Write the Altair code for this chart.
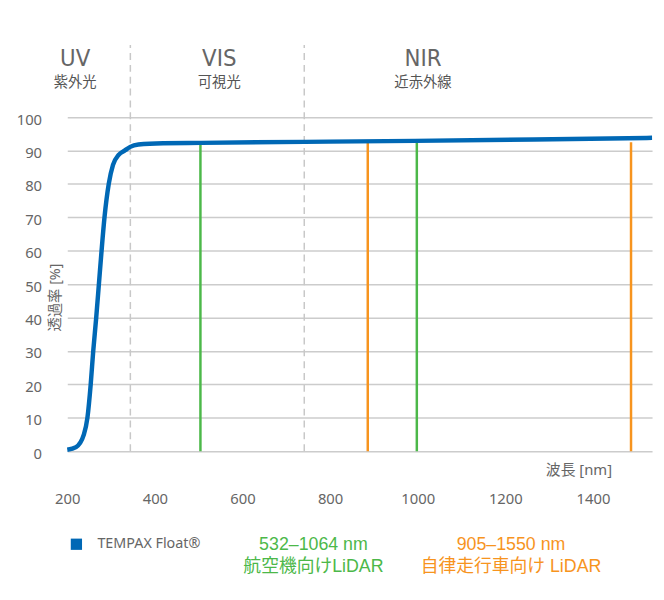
import altair as alt
import pandas as pd

# Transmission curve of TEMPAX Float (wavelength nm, transmittance %)
wl = [200, 220, 238, 246, 253.5, 259.3, 266.1, 272.2, 278.3, 285, 294.7, 304.4, 317.3, 332.4, 343.7, 362.4, 419, 505, 742, 994, 1265, 1535]
tr = [0.4, 1.2, 5, 10, 20, 30, 40, 50, 60, 70, 80, 85.7, 88.7, 90.1, 91.1, 91.8, 92.2, 92.3, 92.6, 92.9, 93.3, 93.8]

x_ticks = [200, 400, 600, 800, 1000, 1200, 1400]
y_ticks = [0, 10, 20, 30, 40, 50, 60, 70, 80, 90, 100]

# region boundaries (dashed)
bound_x = [344, 741]
bound_top = 121.6

# region labels
reg_x = [218, 547, 1012]
reg_main = ["UV", "VIS", "NIR"]
reg_sub = ["紫外光", "可視光", "近赤外線"]
reg_main_y = 117.3
reg_sub_y = 110.2

# LiDAR lines
green_x = [504, 998]
orange_x = [886, 1487]
line_top = 92.5

# LiDAR captions
cap_x = [762, 762, 1213, 1213]
cap_y = [-28.0, -34.6, -28.0, -34.6]
cap_text = ["532–1064 nm", "航空機向けLiDAR", "905–1550 nm", "自律走行車向け LiDAR"]
cap_group = ["g1", "g2", "o1", "o2"]

series_name = "TEMPAX Float®"

BLUE = "#0068b5"
GREEN = "#4cb849"
ORANGE = "#f7941e"
GRAY = "#666666"
FONT = "Noto Sans, Noto Sans CJK JP"
CAP_FONT = "Liberation Sans, Noto Sans CJK JP"

xs = alt.Scale(domain=[200, 1535], nice=False, zero=False)
ys = alt.Scale(domain=[0, 125.1], nice=False)

curve_df = pd.DataFrame({"wl": wl, "tr": tr, "s": [series_name] * len(wl)})
bound_df = pd.DataFrame({"x": bound_x, "y0": [0] * 2, "y1": [bound_top] * 2})
green_df = pd.DataFrame({"x": green_x, "y0": [0] * 2, "y1": [line_top] * 2})
orange_df = pd.DataFrame({"x": orange_x, "y0": [0] * 2, "y1": [line_top] * 2})
reg_df = pd.DataFrame({"x": reg_x, "main": reg_main, "sub": reg_sub,
                       "ym": [reg_main_y] * 3, "ys": [reg_sub_y] * 3})
cap_df = pd.DataFrame({"x": cap_x, "y": cap_y, "t": cap_text, "g": cap_group})

base_x = alt.X("wl:Q", scale=xs,
               axis=alt.Axis(values=x_ticks, format="d", grid=False, ticks=False, domain=False,
                             labelFlush=False, labelPadding=41, labelFontSize=15, labelColor=GRAY,
                             labelFont=FONT, title="波長 [nm]", titleFont=FONT,
                             titleFontSize=15, titleColor=GRAY, titleFontWeight="normal",
                             titleX=551, titleY=19, titleAlign="right",
                             titleBaseline="middle"))
base_y = alt.Y("tr:Q", scale=ys,
               axis=alt.Axis(values=y_ticks, grid=True, gridColor="#cccccc", gridWidth=1.5,
                             ticks=False, domain=False, labelPadding=26, labelFontSize=15,
                             labelColor=GRAY, labelFont=FONT, labelBaseline="middle",
                             labelOffset=2,
                             title="透過率 [%]", titleFont=FONT, titleFontSize=14.5,
                             titleColor=GRAY, titleFontWeight="normal",
                             titleX=-12, titleY=267, titleAlign="center",
                             titleBaseline="middle", titleAngle=270))

bounds = alt.Chart(bound_df).mark_rule(color="#c8c8c8", strokeWidth=1.5, strokeDash=[7, 5]).encode(
    x=alt.X("x:Q", scale=xs), y=alt.Y("y0:Q", scale=ys), y2="y1:Q")
greens = alt.Chart(green_df).mark_rule(color=GREEN, strokeWidth=2.5).encode(
    x=alt.X("x:Q", scale=xs), y=alt.Y("y0:Q", scale=ys), y2="y1:Q")
oranges = alt.Chart(orange_df).mark_rule(color=ORANGE, strokeWidth=2.5).encode(
    x=alt.X("x:Q", scale=xs), y=alt.Y("y0:Q", scale=ys), y2="y1:Q")

curve = alt.Chart(curve_df).mark_line(strokeWidth=4.5, interpolate="monotone").encode(
    x=base_x, y=base_y,
    color=alt.Color("s:N", scale=alt.Scale(range=[BLUE]),
                    legend=alt.Legend(title=None, orient="none", legendX=2, legendY=510,
                                      symbolType="square", symbolSize=130,
                                      symbolFillColor=BLUE, symbolStrokeWidth=0,
                                      labelFont=FONT, labelFontSize=14.5, labelColor=GRAY,
                                      labelOffset=14, padding=0)))

reg_main_t = alt.Chart(reg_df).mark_text(font="Liberation Sans Narrow, DejaVu Sans Condensed, Noto Sans",
                                         fontSize=24, color=GRAY, baseline="middle").encode(
    x=alt.X("x:Q", scale=xs), y=alt.Y("ym:Q", scale=ys), text="main:N")
reg_sub_t = alt.Chart(reg_df).mark_text(font=FONT, fontSize=14.5, color="#555555", baseline="middle").encode(
    x=alt.X("x:Q", scale=xs), y=alt.Y("ys:Q", scale=ys), text="sub:N")

cap_color = alt.Color("g:N", scale=alt.Scale(domain=cap_group, range=[GREEN, GREEN, ORANGE, ORANGE]),
                      legend=None)
cap_t = alt.Chart(cap_df).mark_text(font=CAP_FONT, fontSize=18, baseline="middle").encode(
    x=alt.X("x:Q", scale=xs), y=alt.Y("y:Q", scale=ys), text="t:N", color=cap_color)

chart = alt.layer(bounds, greens, oranges, curve, reg_main_t, reg_sub_t, cap_t).resolve_scale(
    color="independent"
).properties(
    width=592, height=423,
    autosize=alt.AutoSizeParams(type="none"),
    padding={"left": 60, "top": 22, "right": 4, "bottom": 140},
    background="white",
).configure_view(stroke=None)

chart.save("out.html", embed_options={"renderer": "svg", "actions": False})
